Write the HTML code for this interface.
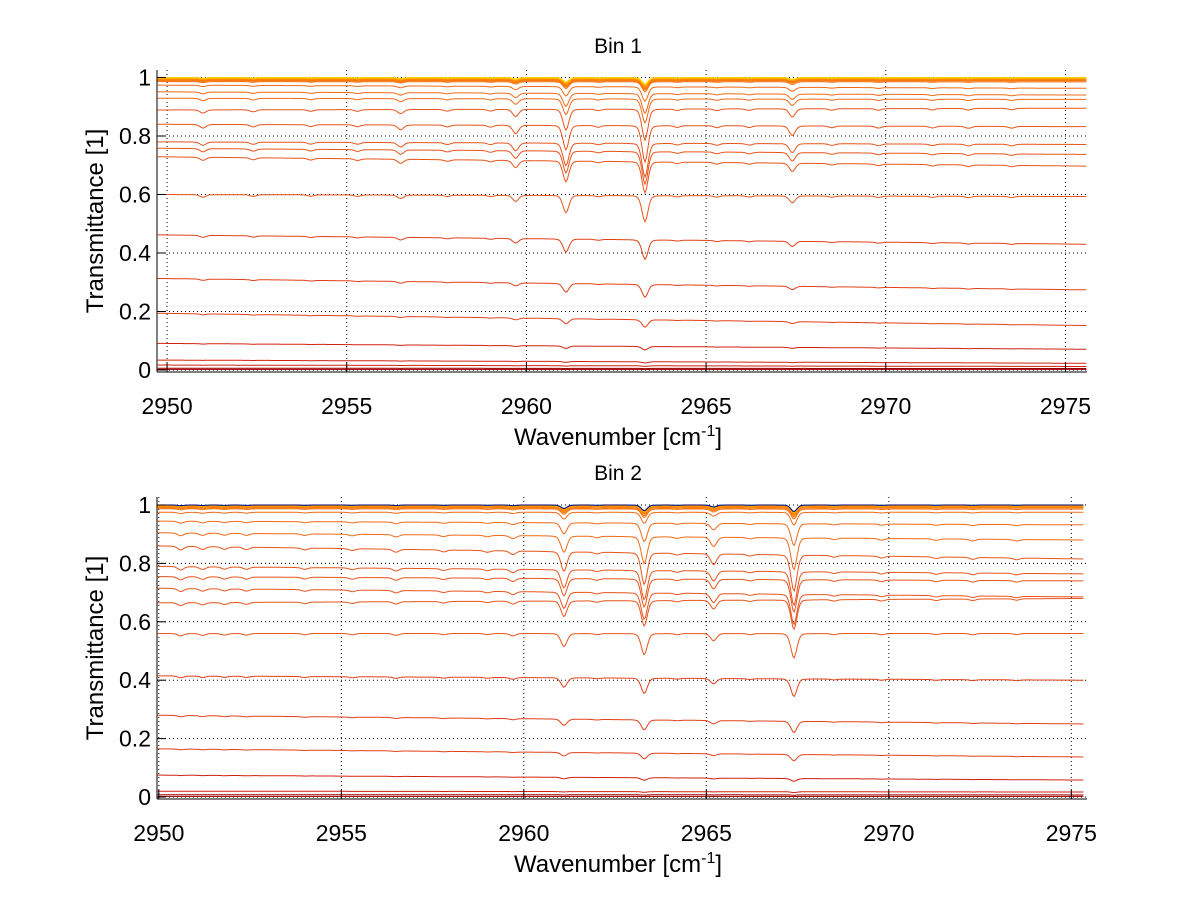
<!DOCTYPE html>
<html><head><meta charset="utf-8">
<style>
html,body{margin:0;padding:0;background:#fff;}
svg{display:block;font-family:"Liberation Sans",sans-serif;}
</style></head>
<body>
<svg id="fig" width="1200" height="901" viewBox="0 0 1200 901">
<rect width="1200" height="901" fill="#fff"/>
</svg>
<script>
// ---- data ----
const bin1Levels = [
 [1.0,1.0],[0.999,0.999],[0.998,0.998],[0.997,0.997],[0.996,0.996],[0.995,0.995],[0.993,0.993],[0.991,0.991],[0.989,0.989],[0.986,0.985],
 [0.974,0.963],[0.951,0.94],[0.929,0.925],[0.889,0.895],[0.84,0.832],[0.78,0.771],[0.758,0.737],[0.729,0.697],[0.60,0.593],
 [0.462,0.43],[0.313,0.274],[0.194,0.152],[0.091,0.071],[0.034,0.023],[0.017,0.012],[0.006,0.005],[0.002,0.002]];
const bin2Levels = [
 [1.0,1.0],[1.0,1.0],[0.999,0.999],[0.998,0.998],[0.997,0.997],[0.995,0.995],[0.993,0.993],[0.99,0.99],[0.987,0.986],
 [0.975,0.975],[0.945,0.932],[0.905,0.88],[0.86,0.815],[0.79,0.764],[0.755,0.74],[0.715,0.685],[0.665,0.68],
 [0.56,0.56],[0.415,0.40],[0.28,0.25],[0.165,0.137],[0.075,0.058],[0.02,0.017],[0.008,0.007],[0.002,0.002]];
const bin1LineCenters = [2961.1, 2963.3, 2967.4, 2959.7, 2956.5, 2951.0, 2952.4, 2954.0, 2955.3, 2957.8, 2959.0, 2962.0, 2964.2, 2965.3, 2966.2, 2968.5, 2969.8, 2971.3, 2972.3, 2973.5];
const bin1LineDepths  = [0.10, 0.15, 0.04, 0.035, 0.02, 0.015, 0.01, 0.008, 0.008, 0.008, 0.008, 0.007, 0.007, 0.008, 0.007, 0.007, 0.008, 0.007, 0.008, 0.007];
const bin2LineCenters = [2961.1, 2963.3, 2965.2, 2967.4, 2959.7, 2956.5, 2950.6, 2951.2, 2951.8, 2952.4, 2954.0, 2955.3, 2957.8, 2959.0, 2962.0, 2964.2, 2966.2, 2968.5, 2969.8, 2971.3, 2972.3, 2973.5];
const bin2LineDepths  = [0.08, 0.13, 0.045, 0.15, 0.015, 0.012, 0.015, 0.012, 0.01, 0.01, 0.008, 0.008, 0.008, 0.007, 0.007, 0.007, 0.007, 0.007, 0.008, 0.007, 0.008, 0.007];
const xTicks = [2950, 2955, 2960, 2965, 2970, 2975];
const yTicks = [0, 0.2, 0.4, 0.6, 0.8, 1];
const yTickLabels = ["0","0.2","0.4","0.6","0.8","1"];

const NS = "http://www.w3.org/2000/svg";
const fig = document.getElementById('fig');
function mk(tag, attrs, parent){ const e=document.createElementNS(NS,tag); for(const k in attrs) e.setAttribute(k,attrs[k]); (parent||fig).appendChild(e); return e; }

const panels = [
 {name:'bin-1', title:'Bin 1', levels:bin1Levels, centers:bin1LineCenters, depths:bin1LineDepths,
  x0:2949.72, x1:2975.6, px0:157, px1:1087, yZero:370, yOne:77.5, axisBottom:372, axisTop:70, titleY:53, xEnd:2975.6, cyanTop:false},
 {name:'bin-2', title:'Bin 2', levels:bin2Levels, centers:bin2LineCenters, depths:bin2LineDepths,
  x0:2949.95, x1:2975.43, px0:157, px1:1087, yZero:797, yOne:505, axisBottom:799, axisTop:497, titleY:480, xEnd:2975.35, cyanTop:true}
];

function colorFor(i, lv, cyanTop){
  if(cyanTop && i===0) return '#00007f';
  if(cyanTop && i===1) return '#40e0c0';
  if(lv>=0.985){ const c=['#ffd000','#ffc000','#ffb000','#ffa000','#ff9400','#ff8800','#ff8000','#f87a10','#f87412','#f47014']; return c[Math.min(i,c.length-1)]; }
  if(lv>=0.9) return '#f06a18';
  if(lv>=0.5) return '#e8541c';
  if(lv>=0.1) return '#e0401a';
  if(lv>=0.01) return '#d02010';
  return '#a00000';
}

panels.forEach(p=>{
  const g = mk('g',{});
  
  
  const sx = v => p.px0 + (v-p.x0)*(p.px1-p.px0)/(p.x1-p.x0);
  const sy = t => p.yZero - t*(p.yZero-p.yOne);
  xTicks.forEach(v=>{
    const gl = mk('line',{x1:sx(v),x2:sx(v),y1:p.axisTop,y2:p.axisBottom,stroke:'#000','stroke-width':1,'stroke-dasharray':'1,3'},g);
     
  });
  yTicks.forEach(v=>{
    const gl = mk('line',{x1:p.px0,x2:p.px1,y1:sy(v),y2:sy(v),stroke:'#000','stroke-width':1,'stroke-dasharray':'1,3'},g);
     
  });
  const series = mk('g',{},g);
  
  
  for(let i=p.levels.length-1;i>=0;i--){
    const [l0,l1] = p.levels[i];
    let d='';
    for(let v=p.x0+0.02; v<=p.xEnd; v+=0.04){
      const f=(v-p.x0)/(p.x1-p.x0);
      const lv=l0+(l1-l0)*f;
      const scale=Math.min(1,(1-lv)*6+0.15);
      let a=0;
      for(let k=0;k<p.centers.length;k++){
        const w=0.085; const dx=(v-p.centers[k])/w;
        a+=p.depths[k]*scale*(0.75*Math.exp(-dx*dx/2)+0.25/(1+dx*dx));
      }
      const t=lv*(1-a);
      d += (d?'L':'M') + sx(v).toFixed(1)+','+sy(t).toFixed(1);
    }
    const path = mk('path',{d:d,fill:'none',stroke:colorFor(i,l0,p.cyanTop),'stroke-width':1},series);
    
    
  }
  const ax = mk('line',{x1:p.px0,x2:p.px0,y1:p.axisTop,y2:p.axisBottom,stroke:'#000','stroke-width':1},g);
   
  const bx = mk('line',{x1:p.px0,x2:p.px1,y1:p.axisBottom,y2:p.axisBottom,stroke:'#000','stroke-width':1},g);
   
  xTicks.forEach(v=>{
    mk('line',{x1:sx(v),x2:sx(v),y1:p.axisBottom,y2:p.axisBottom-9,stroke:'#000'},g);
    const t = mk('text',{x:sx(v),y:p.axisBottom+42,'text-anchor':'middle','font-size':23},g);
    t.textContent=String(v);
     
  });
  yTicks.forEach((v,i)=>{
    mk('line',{x1:p.px0,x2:p.px0+9,y1:sy(v),y2:sy(v),stroke:'#000'},g);
    const t = mk('text',{x:p.px0-6,y:sy(v)+8,'text-anchor':'end','font-size':23},g);
    t.textContent=yTickLabels[i];
     
  });
  const tt = mk('text',{x:618,y:p.titleY,'text-anchor':'middle','font-size':21},g);
  tt.textContent=p.title;
   
  const xl = mk('text',{x:618,y:p.axisBottom+73,'text-anchor':'middle','font-size':24},g);
  xl.innerHTML='Wavenumber [cm<tspan dy="-9" font-size="16">-1</tspan><tspan dy="9">]</tspan>';
   
  const cy=(p.axisTop+p.axisBottom)/2;
  const yl = mk('text',{x:0,y:0,'text-anchor':'middle','font-size':24,transform:'translate(103,'+cy+') rotate(-90)'},g);
  yl.textContent='Transmittance [1]';
   
});
</script>
</body></html>
